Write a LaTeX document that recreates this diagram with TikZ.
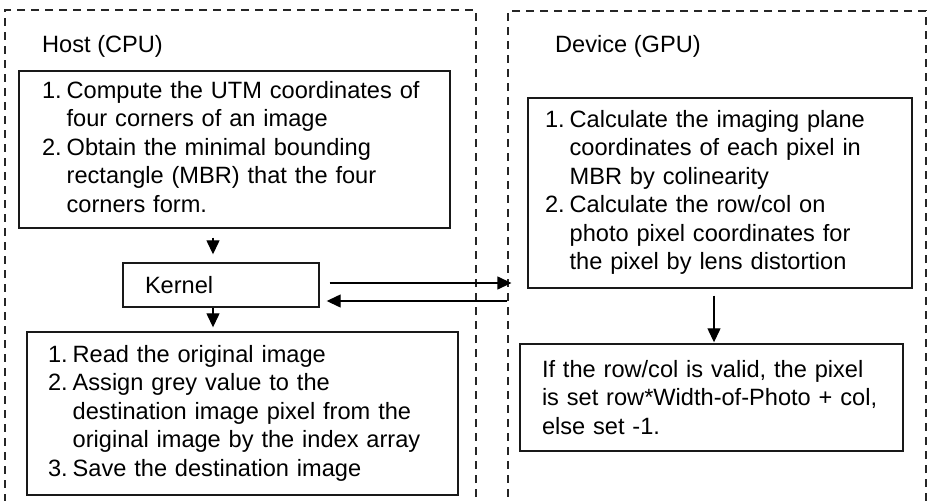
\documentclass[tikz,border=0pt]{standalone}
\usepackage{fontspec}
\setmainfont{Liberation Sans}
\usetikzlibrary{calc,arrows.meta}

\newcommand{\bodyfont}{\fontsize{23.6pt}{28.5pt}\selectfont}
% numbered step list, nudged down a little inside its box
\newcommand{\steplist}[1]{\raisebox{-3pt}{\begin{tabular}{@{}l@{\hspace{5pt}}l@{}}#1\end{tabular}}}

\begin{document}
\begin{tikzpicture}[x=1pt,y=-1pt,
  region/.style={draw=black!85, line width=1.3pt, dash pattern=on 8pt off 6pt},
  procbox/.style={draw=black!90, line width=1.4pt, inner ysep=0pt, anchor=center,
    align=left, font=\bodyfont},
  label/.style={font=\bodyfont, anchor=west, inner sep=0pt},
  arr/.style={line width=1.3pt, -{Triangle[length=14pt,width=13pt]}}]

\useasboundingbox (0,0) rectangle (927,501);
\clip (0,0) rectangle (927,501);

% host and device areas
\node[region, minimum width=471pt, minimum height=520pt, inner sep=0pt] (host) at (240.5,270) {};
\node[region, minimum width=418pt, minimum height=520pt, inner sep=0pt] (dev) at (717,271) {};

\node[label] (hostlbl) at (42,46) {Host (CPU)};
\node[label] (devlbl) at (555,46) {Device (GPU)};

% host steps
\node[procbox, minimum width=431pt, minimum height=157pt, inner xsep=23pt,
  text width=385pt] (prep) at (234.5,149.5)
  {\steplist{
   1. & Compute the UTM coordinates of\\
      & four corners of an image\\
   2. & Obtain the minimal bounding\\
      & rectangle (MBR) that the four\\
      & corners form.}};

\node[procbox, minimum width=196pt, minimum height=44pt, inner xsep=22pt,
  text width=152pt] (kernel) at (221,285) {Kernel};

\node[procbox, minimum width=431pt, minimum height=163pt, inner xsep=21pt,
  text width=389pt] (assign) at (242.5,413.5)
  {\steplist{
   1. & Read the original image\\
   2. & Assign grey value to the\\
      & destination image pixel from the\\
      & original image by the index array\\
   3. & Save the destination image}};

% device steps
\node[procbox, minimum width=384pt, minimum height=190pt, inner xsep=17pt,
  text width=350pt] (calc) at (720,193)
  {\steplist{
   1. & Calculate the imaging plane\\
      & coordinates of each pixel in\\
      & MBR by colinearity\\
   2. & Calculate the row/col on\\
      & photo pixel coordinates for\\
      & the pixel by lens distortion}};

\node[procbox, minimum width=383pt, minimum height=107pt, inner xsep=22pt,
  text width=339pt] (valid) at (711.5,397.5)
  {If the row/col is valid, the pixel\\
   is set row*Width-of-Photo + col,\\
   else set -1.};

% connectors
\draw[arr] ([shift={(-21.5,9)}]prep.south) -- ([shift={(-8,-8)}]kernel.north);
\draw[arr] ([xshift=-8pt]kernel.south) -- ([shift={(-29.5,-4)}]assign.north);
\draw[arr] ($(kernel.east)+(10,-2)$) -- ($(kernel.east -| dev.west)+(4,-2)$);
\draw[arr] ($(kernel.east -| dev.west)+(0,16)$) -- ($(kernel.east)+(7,16)$);
\draw[arr] ([shift={(-6,7)}]calc.south) -- ([shift={(2.5,-1)}]valid.north);

\end{tikzpicture}
\end{document}
